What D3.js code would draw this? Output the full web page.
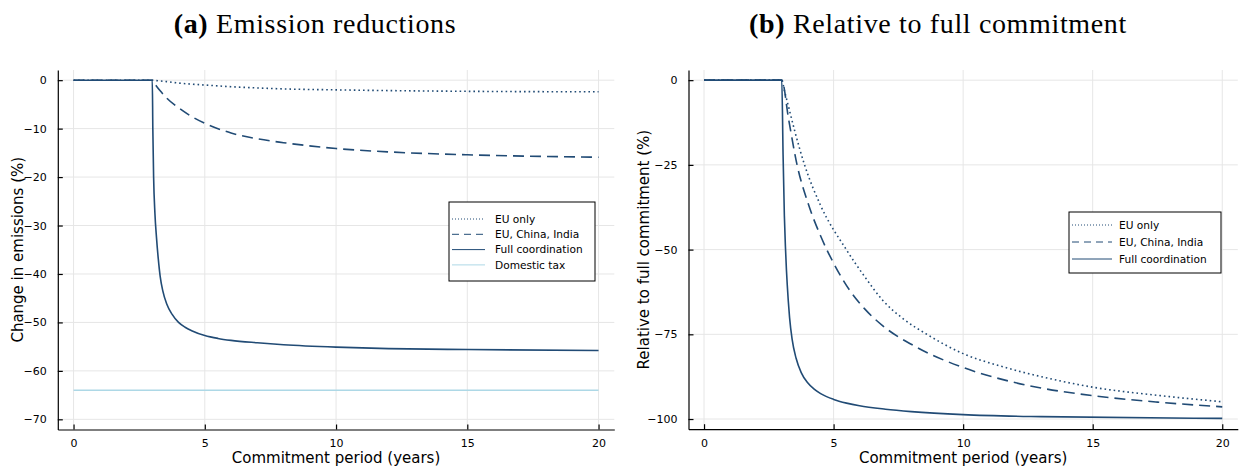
<!DOCTYPE html>
<meta charset="utf-8">
<script src="https://d3js.org/d3.v7.min.js"></script>
<style>
  body { margin: 0; background: #fff; }
  text { font-family: "DejaVu Sans", sans-serif; fill: #000; }
</style>
<body>
<div id="chart"></div>
<script>
// ---- values ----
// panel (a): change in emissions (%)
var xEmis        = [0, 3, 3.02, 3.05, 3.1, 3.16, 3.3, 3.55, 4, 4.5, 5, 6, 7, 8, 10, 12, 15, 20];
var emisEUonly   = [0, 0, -0.01, -0.03, -0.06, -0.09, -0.17, -0.3, -0.6, -0.82, -1.0, -1.35, -1.6, -1.8, -2.0, -2.15, -2.3, -2.4];
var emisEUChInd  = [0, 0, -0.2, -0.45, -0.8, -1.25, -2.2, -3.7, -5.7, -7.5, -8.9, -10.9, -12.1, -12.9, -14.1, -14.8, -15.4, -15.9];
var xEmisFull    = [0, 3, 3.02, 3.05, 3.1, 3.16, 3.23, 3.3, 3.4, 3.55, 3.75, 4, 4.25, 4.5, 5, 5.5, 6, 7, 8, 10, 12, 15, 20];
var emisFull     = [0, 0, -10, -20, -27.5, -32.5, -37, -40.5, -43.5, -46.2, -48.3, -50, -51, -51.7, -52.7, -53.3, -53.7, -54.2, -54.6, -55.1, -55.4, -55.6, -55.8];
var xTax         = [0, 20];
var emisTax      = [-64, -64];

// panel (b): relative to full commitment (%)
var xRelEU       = [0, 3, 3.1, 3.25, 3.5, 3.88, 4.5, 5.49, 6.2, 6.9, 7.7, 8.6, 10, 11.5, 13.3, 15, 17.5, 20];
var relEUonly    = [0, 0, -3, -7.5, -15, -25, -37, -50, -58, -65, -70.5, -75, -80.7, -84.5, -88, -90.6, -93, -94.9];
var xRelECI      = [0, 3, 3.27, 3.59, 4, 4.5, 5, 5.62, 6.2, 6.9, 8.18, 10, 11.5, 12.9, 15, 17.5, 20];
var relEUChInd   = [0, 0, -11.8, -25, -36, -46, -54, -62, -67.5, -72.5, -78.7, -84.8, -88.3, -90.7, -93.1, -95, -96.4];
var xRelFull     = [0, 3, 3.05, 3.1, 3.14, 3.18, 3.25, 3.3, 3.4, 3.55, 3.75, 4, 4.25, 4.5, 5, 5.5, 6, 7, 8, 10, 13, 20];
var relFull      = [0, 0, -22, -40, -49, -56, -65, -70, -76.5, -82, -86.3, -89.3, -91.2, -92.5, -94.2, -95.3, -96.1, -97.1, -97.8, -98.7, -99.3, -99.8];

var xTicks       = [0, 5, 10, 15, 20];
var yTicksEmis   = [0, -10, -20, -30, -40, -50, -60, -70];
var yTicksRel    = [0, -25, -50, -75, -100];

var seriesNames  = ["EU only", "EU, China, India", "Full coordination", "Domestic tax"];

// ---- drawing ----
var W = 1239, H = 466;
var navy = "#214b75", light = "#add8e6";
var styles = {
  "EU only":           {color: navy,  dash: "1.6,3",  w: 1.6, legDash: "1,2"},
  "EU, China, India":  {color: navy,  dash: "11,6",   w: 1.6, legDash: "7,5"},
  "Full coordination": {color: navy,  dash: null,     w: 1.6, legDash: null},
  "Domestic tax":      {color: light, dash: null,     w: 1.6, legDash: null}
};

var svg = d3.select("#chart").append("svg")
  .attr("width", W).attr("height", H);

function panel(cfg) {
  var x = d3.scaleLinear().domain([-0.6, 20.6]).range([cfg.left, cfg.right]);
  var y = d3.scaleLinear().domain(cfg.ydom).range([cfg.bottom, cfg.top]);
  var g = svg.append("g");

  // grid
  g.append("g").selectAll("line").data(xTicks).enter().append("line")
    .attr("x1", d => x(d)).attr("x2", d => x(d))
    .attr("y1", cfg.top).attr("y2", cfg.bottom)
    .attr("stroke", "#e6e6e6").attr("stroke-width", 1);
  g.append("g").selectAll("line").data(cfg.yticks).enter().append("line")
    .attr("x1", cfg.left).attr("x2", cfg.right)
    .attr("y1", d => y(d)).attr("y2", d => y(d))
    .attr("stroke", "#e6e6e6").attr("stroke-width", 1);

  // axes (inward ticks)
  var ax = g.append("g").attr("transform", "translate(0," + cfg.bottom + ")")
    .call(d3.axisBottom(x).tickValues(xTicks).tickSizeInner(-5).tickSizeOuter(0).tickPadding(10));
  var ay = g.append("g").attr("transform", "translate(" + cfg.left + ",0)")
    .call(d3.axisLeft(y).tickValues(cfg.yticks).tickSizeInner(-5).tickSizeOuter(0).tickPadding(11));
  [ax, ay].forEach(function (a) {
    a.select(".domain").attr("stroke", "#000").attr("stroke-width", 1.2);
    a.selectAll(".tick line").attr("stroke", "#000").attr("stroke-width", 1.2);
    a.selectAll(".tick text").style("font-size", "11px").attr("fill", "#000");
  });

  // series
  var line = d3.line().x(d => x(d[0])).y(d => y(d[1])).curve(d3.curveMonotoneX);
  cfg.series.forEach(function (s) {
    var st = styles[s.name];
    g.append("path")
      .datum(d3.zip(s.x, s.y))
      .attr("d", line)
      .attr("fill", "none")
      .attr("stroke", st.color)
      .attr("stroke-width", st.w)
      .attr("stroke-dasharray", st.dash);
  });

  // titles and labels
  var t = g.append("text").attr("x", cfg.titleX).attr("y", 33)
    .attr("text-anchor", "middle")
    .style("font-family", "'Liberation Serif', serif").style("font-size", "28px")
    .style("letter-spacing", "0.65px");
  t.append("tspan").style("font-weight", "bold").text(cfg.tag);
  t.append("tspan").text(" " + cfg.title);

  g.append("text").attr("x", (cfg.left + cfg.right) / 2).attr("y", 463)
    .attr("text-anchor", "middle").style("font-size", "15px").text("Commitment period (years)");
  g.append("text")
    .attr("transform", "translate(" + cfg.ylabX + "," + ((cfg.top + cfg.bottom) / 2) + ") rotate(-90)")
    .attr("text-anchor", "middle").style("font-size", "15px").text(cfg.ylab);

  // legend
  var L = cfg.legend;
  g.append("rect").attr("x", L.x).attr("y", L.y).attr("width", L.w).attr("height", L.h)
    .attr("fill", "#fff").attr("stroke", "#000").attr("stroke-width", 1);
  cfg.series.forEach(function (s, i) {
    var st = styles[s.name];
    var yy = L.y + L.first + i * L.step;
    g.append("line").attr("x1", L.x + 3).attr("x2", L.x + 3 + L.sample)
      .attr("y1", yy).attr("y2", yy)
      .attr("stroke", st.color).attr("stroke-width", 1)
      .attr("stroke-dasharray", st.legDash);
    g.append("text").attr("x", L.x + L.textDx).attr("y", yy).attr("dy", "0.35em")
      .style("font-size", "10.6px").text(s.name);
  });
}

panel({
  left: 57.8, right: 614.3, top: 70, bottom: 429.5, ydom: [-72.1, 2.1],
  yticks: yTicksEmis, tag: "(a)", title: "Emission reductions", titleX: 315,
  ylab: "Change in emissions (%)", ylabX: 23,
  series: [
    {name: seriesNames[0], x: xEmis,     y: emisEUonly},
    {name: seriesNames[1], x: xEmis,     y: emisEUChInd},
    {name: seriesNames[2], x: xEmisFull, y: emisFull},
    {name: seriesNames[3], x: xTax,      y: emisTax}
  ],
  legend: {x: 449, y: 202, w: 146, h: 79, first: 17, step: 15.3, sample: 33, textDx: 46}
});

panel({
  left: 688.5, right: 1237.8, top: 70, bottom: 429.2, ydom: [-103, 3],
  yticks: yTicksRel, tag: "(b)", title: "Relative to full commitment", titleX: 938,
  ylab: "Relative to full commitment (%)", ylabX: 649,
  series: [
    {name: seriesNames[0], x: xRelEU,   y: relEUonly},
    {name: seriesNames[1], x: xRelECI,  y: relEUChInd},
    {name: seriesNames[2], x: xRelFull, y: relFull}
  ],
  legend: {x: 1069, y: 212, w: 152, h: 61, first: 13, step: 17, sample: 40, textDx: 50}
});
</script>
</body>
